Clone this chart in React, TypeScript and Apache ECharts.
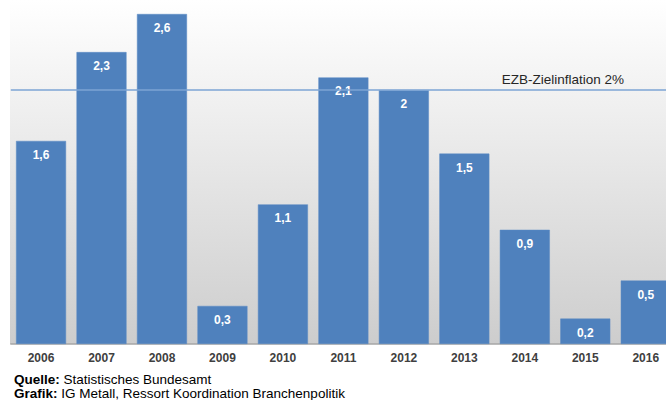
import React, { useEffect, useRef } from "react";
import * as echarts from "echarts";

const years = ["2006", "2007", "2008", "2009", "2010", "2011", "2012", "2013", "2014", "2015", "2016"];
const inflation = [1.6, 2.3, 2.6, 0.3, 1.1, 2.1, 2.0, 1.5, 0.9, 0.2, 0.5];
const targetValue = 2.0;
const targetLabel = "EZB-Zielinflation 2%";
const sourceLines = [
  ["Quelle:", " Statistisches Bundesamt"],
  ["Grafik:", " IG Metall, Ressort Koordination Branchenpolitik"],
];

export default function App() {
  const ref = useRef<HTMLDivElement>(null);
  useEffect(() => {
    if (!ref.current) return;
    const chart = echarts.init(ref.current, null, { renderer: "svg" });
    const font = "'Liberation Sans', Arial, sans-serif";
    chart.setOption({
      animation: false,
      backgroundColor: "#ffffff",
      textStyle: { fontFamily: font },
      graphic: [
        {
          type: "rect",
          z: -10,
          shape: { x: 10, y: 0, width: 670, height: 344 },
          style: {
            fill: new echarts.graphic.LinearGradient(0, 0, 0, 1, [
              { offset: 0, color: "#ffffff" },
              { offset: 1, color: "#cdcdcd" },
            ]),
          },
        },
        ...sourceLines.map((l, i) => ({
          type: "text",
          left: 14,
          top: 372 + i * 14,
          style: {
            text: `{b|${l[0]}}{n|${l[1]}}`,
            rich: {
              b: { fontFamily: font, fontWeight: "bold", fontSize: 13.5, fill: "#000" },
              n: { fontFamily: font, fontSize: 13.5, fill: "#000" },
            },
          },
        })),
      ],
      grid: { left: 10.8, right: 0, top: 14, bottom: 56, containLabel: false },
      xAxis: {
        type: "category",
        data: years,
        axisTick: { show: false },
        axisLine: { show: true, lineStyle: { color: "#a6a6a6", width: 1.5 } },
        axisLabel: { color: "#404040", fontWeight: "bold", fontSize: 12, fontFamily: font, margin: 8 },
      },
      yAxis: {
        type: "value",
        min: 0,
        max: 2.6,
        show: false,
        splitLine: { show: false },
      },
      series: [
        {
          type: "bar",
          data: inflation,
          barWidth: 50,
          itemStyle: { color: "#4f81bd", borderColor: "#5b8ac4", borderWidth: 0.5 },
          label: {
            show: true,
            position: "insideTop",
            distance: 8,
            color: "#ffffff",
            fontWeight: "bold",
            fontSize: 12,
            fontFamily: font,
            formatter: (p: any) => String(p.value).replace(".", ","),
          },
          markLine: {
            silent: true,
            symbol: "none",
            data: [{ yAxis: targetValue }],
            lineStyle: { color: "#7da4d4", width: 1.5, type: "solid" },
            label: {
              show: true,
              position: "insideEndTop",
              formatter: targetLabel,
              color: "#262626",
              fontSize: 13.5,
              fontFamily: font,
              distance: [52, 4],
            },
          },
        },
      ],
    });
    return () => chart.dispose();
  }, []);
  return (
    <div style={{ position: "absolute", left: 0, top: 0, width: 666, height: 400, overflow: "hidden" }}>
      <div ref={ref} style={{ width: 676, height: 400 }} />
    </div>
  );
}
